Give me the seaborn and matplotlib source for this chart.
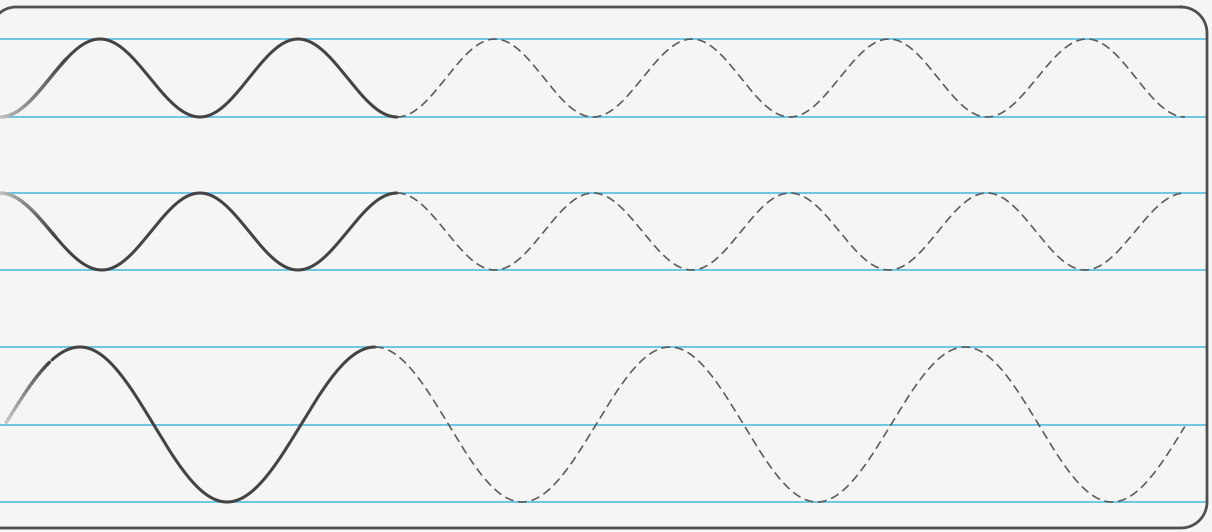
import numpy as np
import pandas as pd
import matplotlib.pyplot as plt
import seaborn as sns
from matplotlib.collections import LineCollection
from matplotlib.colors import to_rgb

sns.set_theme(style="white")

# ruled guide lines (pixel rows on the sheet)
guide_y = [39, 117, 193, 270, 347, 425, 502]

# turning points of each wave (x, y)
w1_x = [0, 100, 200, 298, 397, 495, 593, 692, 790, 889, 987, 1087, 1185]
w1_y = [117, 39, 117, 39, 117, 39, 117, 39, 117, 39, 117, 39, 117]

w2_x = [0, 102, 200, 298, 397, 495, 593, 692, 790, 889, 987, 1085, 1185]
w2_y = [193, 270, 193, 270, 193, 270, 193, 270, 193, 270, 193, 270, 193]

w3_x = [-70, 80, 227, 375, 522, 670, 817, 965, 1112, 1260]
w3_y = [502, 347, 502, 347, 502, 347, 502, 347, 502, 347]

# start, end of faded part, end of solid trace, end of dotted trace
w1_span = [0, 65, 397, 1185]
w2_span = [0, 55, 397, 1185]
w3_span = [5, 50, 375, 1186]

# sheet border: left, top, right, bottom, corner radii (TR, BR, BL, TL)
sheet_box = [-9, 7, 1207, 528]
corner_r = [26, 26, 4, 25]

W, H = 1212, 532
paper = '#f5f5f3'
ink = '#444444'
blue = '#45b9e0'


def wave_points(xk, yk, n=60):
    xs, ys = [], []
    for i in range(len(xk) - 1):
        t = np.linspace(0, 1, n)
        xs.append(xk[i] + (xk[i + 1] - xk[i]) * t)
        ys.append(yk[i] + (yk[i + 1] - yk[i]) * (1 - np.cos(np.pi * t)) / 2)
    return pd.DataFrame({'x': np.concatenate(xs), 'y': np.concatenate(ys)})


def rounded_rect(left, top, right, bottom, radii, n=20):
    r1, r2, r3, r4 = radii
    corners = [(right - r1, top + r1, r1, -90, 0), (right - r2, bottom - r2, r2, 0, 90),
               (left + r3, bottom - r3, r3, 90, 180), (left + r4, top + r4, r4, 180, 270)]
    xs, ys = [], []
    for cx, cy, r, a0, a1 in corners:
        a = np.radians(np.linspace(a0, a1, n))
        xs.extend(cx + r * np.cos(a))
        ys.extend(cy + r * np.sin(a))
    xs.append(xs[0])
    ys.append(ys[0])
    return xs, ys


fig = plt.figure(figsize=(W / 100, H / 100), dpi=100, facecolor=paper)
ax = fig.add_axes([0, 0, 1, 1])
ax.set_facecolor(paper)

# sheet border
bx, by = rounded_rect(*sheet_box, corner_r)
ax.plot(bx, by, color='#505050', linewidth=2.0, zorder=3, solid_joinstyle='round')

# blue ruling
ax.hlines(guide_y, 0, 1207, color=blue, linewidth=1.1, zorder=1)

for xk, yk, span in [(w1_x, w1_y, w1_span), (w2_x, w2_y, w2_span), (w3_x, w3_y, w3_span)]:
    df = wave_points(xk, yk)
    start, fade_end, solid_end, end = span

    # faded lead-in of the traced line
    fade = df[(df.x >= start) & (df.x <= fade_end + 2)]
    pts = fade[['x', 'y']].to_numpy()
    segs = np.stack([pts[:-1], pts[1:]], axis=1)
    c0, c1 = np.array(to_rgb('#c4c4c4')), np.array(to_rgb(ink))
    f = np.linspace(0, 1, len(segs))[:, None]
    lc = LineCollection(segs, colors=c0 * (1 - f) + c1 * f, linewidths=2.4,
                        capstyle='round', zorder=4)
    ax.add_collection(lc)

    # solid traced part
    solid = df[(df.x >= fade_end) & (df.x <= solid_end)]
    sns.lineplot(data=solid, x='x', y='y', color=ink, linewidth=2.2, sort=False,
                 estimator=None, ax=ax, zorder=4)

    # dashed part to trace
    dash = df[(df.x >= solid_end) & (df.x <= end)]
    sns.lineplot(data=dash, x='x', y='y', color='#5a5a5a', linewidth=1.15, sort=False,
                 estimator=None, ax=ax, linestyle=(0, (5.5, 3)), zorder=4)

ax.set_xlim(0, W)
ax.set_ylim(H, 0)
ax.axis('off')
fig.savefig('out.png', dpi=100, facecolor=paper)
